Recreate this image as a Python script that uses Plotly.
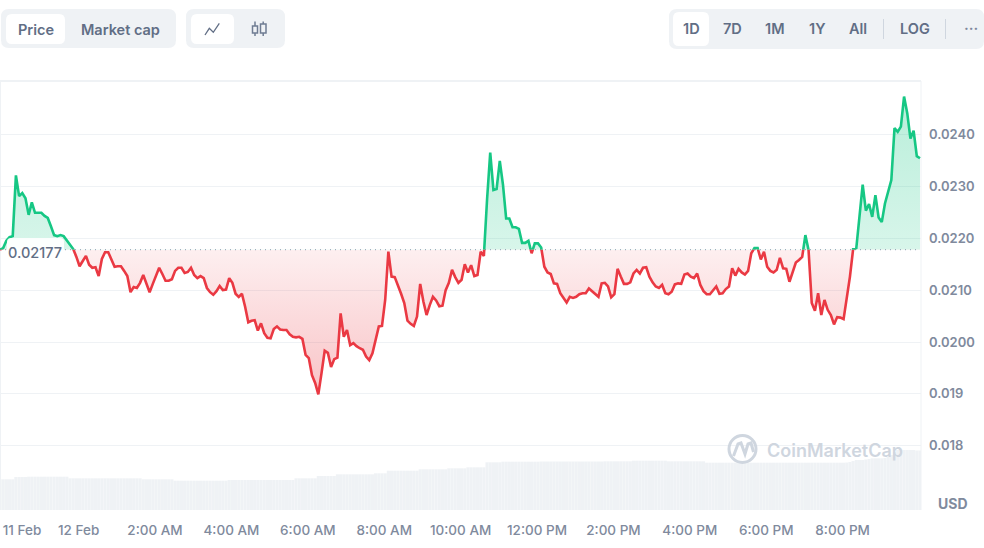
import pandas as pd
import plotly.graph_objects as go

# price every 5 minutes
price = [
    0.02178, 0.02181, 0.02195, 0.02202, 0.02204, 0.02321, 0.02281, 0.02287, 0.02277, 0.02245,
    0.02269, 0.02249, 0.02249, 0.02249, 0.02243, 0.02239, 0.02223, 0.02206, 0.02204, 0.02206,
    0.02204, 0.02195, 0.02187, 0.02179, 0.02164, 0.02146, 0.02156, 0.02166, 0.02149, 0.02143,
    0.02144, 0.02127, 0.02160, 0.02173, 0.02173, 0.02159, 0.02145, 0.02146, 0.02146, 0.02137,
    0.02127, 0.02096, 0.02106, 0.02104, 0.02114, 0.02129, 0.02112, 0.02096, 0.02112, 0.02127,
    0.02143, 0.02131, 0.02118, 0.02118, 0.02121, 0.02137, 0.02143, 0.02143, 0.02133, 0.02135,
    0.02143, 0.02129, 0.02123, 0.02127, 0.02123, 0.02104, 0.02096, 0.02091, 0.02098, 0.02108,
    0.02100, 0.02101, 0.02123, 0.02114, 0.02093, 0.02087, 0.02093, 0.02068, 0.02038, 0.02041,
    0.02042, 0.02022, 0.02036, 0.02017, 0.02008, 0.02007, 0.02025, 0.02030, 0.02024, 0.02023,
    0.02023, 0.02015, 0.02010, 0.02009, 0.02010, 0.02006, 0.01975, 0.01969, 0.01936, 0.01921,
    0.01899, 0.01940, 0.01983, 0.01979, 0.01952, 0.01967, 0.01970, 0.02055, 0.02010, 0.02023,
    0.01994, 0.01998, 0.01992, 0.01988, 0.01985, 0.01972, 0.01965, 0.01978, 0.02004, 0.02030,
    0.02031, 0.02081, 0.02174, 0.02126, 0.02125, 0.02110, 0.02093, 0.02075, 0.02041, 0.02035,
    0.02031, 0.02049, 0.02112, 0.02078, 0.02052, 0.02071, 0.02087, 0.02080, 0.02069, 0.02070,
    0.02100, 0.02114, 0.02139, 0.02125, 0.02114, 0.02120, 0.02150, 0.02134, 0.02148, 0.02127,
    0.02129, 0.02174, 0.02166, 0.02274, 0.02365, 0.02293, 0.02295, 0.02349, 0.02303, 0.02238,
    0.02238, 0.02221, 0.02221, 0.02218, 0.02191, 0.02191, 0.02195, 0.02171, 0.02190, 0.02190,
    0.02182, 0.02145, 0.02134, 0.02131, 0.02113, 0.02112, 0.02094, 0.02084, 0.02076, 0.02087,
    0.02085, 0.02087, 0.02092, 0.02094, 0.02094, 0.02103, 0.02097, 0.02092, 0.02087, 0.02113,
    0.02114, 0.02107, 0.02086, 0.02092, 0.02141, 0.02126, 0.02112, 0.02112, 0.02115, 0.02132,
    0.02139, 0.02132, 0.02143, 0.02144, 0.02126, 0.02115, 0.02107, 0.02104, 0.02110, 0.02094,
    0.02092, 0.02097, 0.02111, 0.02113, 0.02112, 0.02130, 0.02132, 0.02126, 0.02123, 0.02132,
    0.02110, 0.02098, 0.02092, 0.02092, 0.02100, 0.02107, 0.02093, 0.02094, 0.02102, 0.02107,
    0.02142, 0.02128, 0.02141, 0.02134, 0.02130, 0.02137, 0.02171, 0.02181, 0.02181, 0.02159,
    0.02174, 0.02145, 0.02137, 0.02134, 0.02139, 0.02162, 0.02142, 0.02141, 0.02116, 0.02135,
    0.02153, 0.02158, 0.02164, 0.02206, 0.02177, 0.02075, 0.02060, 0.02094, 0.02052, 0.02081,
    0.02062, 0.02052, 0.02034, 0.02048, 0.02047, 0.02044, 0.02083, 0.02126, 0.02179, 0.02181,
    0.02243, 0.02303, 0.02253, 0.02266, 0.02241, 0.02283, 0.02240, 0.02231, 0.02267, 0.02291,
    0.02312, 0.02412, 0.02405, 0.02415, 0.02473, 0.02441, 0.02392, 0.02407, 0.02358, 0.02354,
]

# volume bars, arbitrary units since the chart has no volume scale
volume = [
    30.7, 30.7, 30.7, 30.7, 30.7, 33, 33, 33, 33, 33.3,
    33.3, 33.3, 33.3, 33.3, 33.3, 33.3, 33.3, 33.3, 33.3, 33.3,
    33.3, 33.3, 31.7, 31.7, 31.7, 31.7, 31.7, 31.7, 31.7, 31.7,
    31.7, 31.7, 31.7, 31.7, 31.7, 31.7, 31.7, 31.7, 31.7, 31.7,
    31.7, 31.7, 31.7, 31.7, 31.7, 30.7, 30.7, 30.7, 30.7, 30.7,
    30.7, 30.7, 30.7, 30.7, 30.7, 29.3, 29.3, 29.3, 29.3, 29.3,
    29.3, 29.3, 29.3, 29.3, 29.3, 29.3, 29.3, 29.3, 29.3, 29.3,
    29.3, 29.3, 30, 30, 30, 30, 30, 30, 30, 30,
    30, 30, 30, 30, 30, 30, 30, 30, 30, 30,
    30, 30, 30, 31.7, 31.7, 31.7, 31.7, 31.7, 31.7, 31.7,
    34, 34, 34, 34, 34, 34, 35.7, 35.7, 35.7, 35.7,
    35.7, 35.7, 35.7, 35.7, 35.7, 35.7, 35.7, 35.7, 36.7, 36.7,
    36.7, 36.7, 39.3, 39.3, 39.3, 39.3, 39.3, 39.3, 39.3, 39.3,
    39.3, 39.3, 40.7, 40.7, 40.7, 40.7, 40.7, 40.7, 40.7, 40.7,
    40.7, 41.7, 41.7, 41.7, 41.7, 41.7, 41.7, 42.7, 42.7, 42.7,
    42.7, 42.7, 42.7, 47.7, 47.7, 47.7, 47.7, 47.7, 48.3, 48.3,
    48.3, 48.3, 48.3, 48.3, 48.3, 48.3, 48.3, 48.3, 48.3, 48.3,
    48.5, 48.5, 48.5, 48.5, 48.5, 48.5, 48.5, 48.5, 48.5, 48.5,
    48.5, 48.5, 48.5, 48.5, 48.5, 48.5, 48.5, 48.5, 48.5, 48.5,
    48.7, 48.7, 48.7, 48.7, 48.7, 48.7, 48.7, 48.7, 48.7, 49.3,
    49.3, 49.3, 49.3, 49.3, 49.3, 49.3, 49.3, 49.3, 49.3, 49.3,
    48.7, 48.7, 48.7, 48.7, 48.7, 48.7, 48.7, 48.7, 48.7, 48.7,
    48.7, 48.7, 47.3, 47.3, 47.3, 47.3, 47.3, 47.3, 47.3, 47.3,
    47.3, 47.3, 47.3, 47.3, 47.3, 47.3, 47.3, 47.3, 47.3, 47.3,
    47.3, 47.3, 47.3, 47.3, 47.3, 47.3, 47.3, 47.3, 47.3, 47.3,
    47.3, 47.3, 47.3, 47.3, 47.3, 47.3, 47.3, 47.3, 47.3, 47.3,
    47.3, 47.3, 47.3, 47.3, 47.3, 47.3, 47.5, 48, 49, 50,
    50, 50, 50.5, 51, 51.7, 51.7, 51.7, 51.7, 52, 53,
    55, 58, 60, 60, 60, 60, 60, 60, 59.5, 59.5,
]

baseline = 0.021778
price_ticks = [0.018, 0.019, 0.020, 0.021, 0.022, 0.023, 0.024]
price_labels = ['0.018', '0.019', '0.0200', '0.0210', '0.0220', '0.0230', '0.0240']
time_ticks = ['2024-02-11 22:31', '2024-02-12 00:00', '2024-02-12 02:00', '2024-02-12 04:00',
              '2024-02-12 06:00', '2024-02-12 08:00', '2024-02-12 10:00', '2024-02-12 12:00',
              '2024-02-12 14:00', '2024-02-12 16:00', '2024-02-12 18:00', '2024-02-12 20:00']
time_labels = ['11 Feb', '12 Feb', '2:00 AM', '4:00 AM', '6:00 AM', '8:00 AM', '10:00 AM',
               '12:00 PM', '2:00 PM', '4:00 PM', '6:00 PM', '8:00 PM']

times = pd.date_range('2024-02-11 21:56:30', periods=len(price), freq='5min')
flat = [baseline] * len(price)
y_min, y_max = 0.016763, 0.025029

W, H = 984, 548
TEXT = '#616e85'
AXIS = '#808a9d'
PILL = '#eff2f5'
GREEN = '#16c784'
RED = '#ea3943'
MARK = '#cfd6df'
FONT = 'Inter'

plot_left, plot_right = 0, 921 / W
plot_bottom, plot_top = (H - 510) / H, (H - 81) / H
split = plot_bottom + (plot_top - plot_bottom) * (baseline - y_min) / (y_max - y_min)


def px(x):
    return x / W


def py(y):
    return 1 - y / H


def rounded(x0, y0, x1, y1, r, color, opacity=1):
    path = (f'M {px(x0 + r)} {py(y0)} L {px(x1 - r)} {py(y0)} '
            f'Q {px(x1)} {py(y0)} {px(x1)} {py(y0 + r)} L {px(x1)} {py(y1 - r)} '
            f'Q {px(x1)} {py(y1)} {px(x1 - r)} {py(y1)} L {px(x0 + r)} {py(y1)} '
            f'Q {px(x0)} {py(y1)} {px(x0)} {py(y1 - r)} L {px(x0)} {py(y0 + r)} '
            f'Q {px(x0)} {py(y0)} {px(x0 + r)} {py(y0)} Z')
    return dict(type='path', xref='paper', yref='paper', path=path, fillcolor=color,
                line_width=0, layer='above', opacity=opacity)


def stroke(points, color, width=1.5):
    path = 'M ' + ' L '.join(f'{px(x)} {py(y)}' for x, y in points)
    return dict(type='path', xref='paper', yref='paper', path=path,
                line=dict(color=color, width=width), layer='above')


def box(x0, y0, x1, y1, color, width=1.5):
    return dict(type='rect', xref='paper', yref='paper', x0=px(x0), x1=px(x1), y0=py(y0), y1=py(y1),
                line=dict(color=color, width=width), layer='above')


def label(text, x, y, size=14.5, color=TEXT, weight=600):
    return dict(text=text, xref='paper', yref='paper', x=px(x), y=py(y), showarrow=False,
                xanchor='center', yanchor='middle',
                font=dict(family=FONT, size=size, color=color, weight=weight))


fig = go.Figure()

# dotted opening price line, on the main axis with the grid
fig.add_trace(go.Scatter(x=times, y=flat, mode='lines', yaxis='y',
                         line=dict(color='#a6b0c3', width=1.2, dash='1px,4px')))

# volume
fig.add_trace(go.Bar(x=times, y=volume, yaxis='y4', marker_color=PILL, marker_line_width=0, width=296000))

# the part above the opening price lives on y2, the part below on y3, each axis clips the other part
fig.add_trace(go.Scatter(x=times, y=flat, mode='lines', yaxis='y2', line_width=0))
fig.add_trace(go.Scatter(x=times, y=price, mode='lines', yaxis='y2', fill='tonexty',
                         line=dict(color=GREEN, width=2.6),
                         fillgradient=dict(type='vertical', start=baseline, stop=0.0247,
                                           colorscale=[[0, 'rgba(22,199,132,0.17)'],
                                                       [1, 'rgba(22,199,132,0.3)']])))
fig.add_trace(go.Scatter(x=times, y=flat, mode='lines', yaxis='y3', line_width=0))
fig.add_trace(go.Scatter(x=times, y=price, mode='lines', yaxis='y3', fill='tonexty',
                         line=dict(color=RED, width=2.6),
                         fillgradient=dict(type='vertical', start=0.0190, stop=baseline,
                                           colorscale=[[0, 'rgba(234,57,67,0.3)'],
                                                       [1, 'rgba(234,57,67,0.08)']])))

shapes = [
    # chart frame
    dict(type='line', xref='paper', yref='paper', x0=0, x1=px(921), y0=py(81), y1=py(81),
         line=dict(color='#eff2f5', width=2), layer='below'),
    dict(type='line', xref='paper', yref='paper', x0=px(0.5), x1=px(0.5), y0=py(81), y1=py(510),
         line=dict(color='#eff2f5', width=1), layer='below'),
    dict(type='line', xref='paper', yref='paper', x0=px(921), x1=px(921), y0=py(81), y1=py(510),
         line=dict(color='#eff2f5', width=1), layer='below'),
    # label behind the opening price
    rounded(7, 238, 64, 263, 4, 'white', 0.93),
    # top left buttons
    rounded(1, 9, 176, 48, 8, PILL),
    rounded(6, 14, 65, 44, 6, 'white'),
    rounded(186, 9, 285, 48, 8, PILL),
    rounded(191, 14, 234, 44, 6, 'white'),
    stroke([(205, 35), (209.3, 28.3), (213.3, 32.3), (219.3, 23.3)], TEXT, 1.3),
    # candle icon
    box(252.5, 26, 257.5, 33, '#6f7c92'),
    box(260.5, 24, 266, 33, '#6f7c92'),
    stroke([(255, 21.5), (255, 26)], '#6f7c92'),
    stroke([(255, 33), (255, 36)], '#6f7c92'),
    stroke([(263.2, 21.5), (263.2, 24)], '#6f7c92'),
    stroke([(263.2, 33), (263.2, 36)], '#6f7c92'),
    # range buttons
    rounded(669, 9, 984, 49, 8, PILL),
    rounded(673, 12, 709, 46, 6, 'white'),
    stroke([(883.5, 19), (883.5, 39)], '#cfd6df', 1),
    stroke([(945.5, 19), (945.5, 39)], '#cfd6df', 1),
    # watermark logo
    dict(type='circle', xref='paper', yref='paper', x0=px(729), x1=px(756), y0=py(435.5), y1=py(462.5),
         line=dict(color=MARK, width=3), layer='above'),
    stroke([(733.5, 456), (738, 444), (741, 443), (745, 454), (748, 444), (751, 443), (753.5, 452)], MARK, 3),
]

annotations = [
    label('Price', 35.5, 29),
    label('Market cap', 120, 29),
    label('1D', 691, 28.5),
    label('7D', 732.5, 28.5),
    label('1M', 775, 28.5),
    label('1Y', 817, 28.5),
    label('All', 858, 28.5),
    label('LOG', 915, 28.5),
    label('···', 971, 28, 15, '#7d879c'),
    label('0.02177', 35, 252, 14.5, TEXT, 500),
    label('USD', 952.5, 503.5, 14, AXIS, 700),
    label('CoinMarketCap', 834.5, 450.5, 18, MARK, 600),
]

fig.update_layout(
    width=W, height=H,
    margin=dict(l=0, r=0, t=0, b=0),
    paper_bgcolor='white', plot_bgcolor='rgba(0,0,0,0)',
    showlegend=False,
    hovermode=False,
    shapes=shapes,
    annotations=annotations,
    font=dict(family=FONT, color=AXIS),
    xaxis=dict(domain=[plot_left, plot_right], anchor='y', type='date', range=[times[0], '2024-02-12 22:03:06'],
               tickvals=time_ticks, ticktext=time_labels, showgrid=False, ticks='', zeroline=False,
               showline=False, ticklabelstandoff=10, tickangle=0,
               tickfont=dict(family=FONT, size=13.5, color=AXIS, weight=500)),
    yaxis=dict(domain=[plot_bottom, plot_top], anchor='x', side='right', range=[y_min, y_max],
               tickvals=price_ticks, ticktext=price_labels, gridcolor='#eff2f5', gridwidth=1,
               zeroline=False, showline=False, ticks='', ticklabelstandoff=7,
               tickfont=dict(family=FONT, size=13, color=AXIS, weight=600)),
    yaxis2=dict(domain=[split, plot_top], anchor='x', range=[baseline, y_max], visible=False),
    yaxis3=dict(domain=[plot_bottom, split], anchor='x', range=[y_min, baseline], visible=False),
    yaxis4=dict(domain=[plot_bottom, plot_top], anchor='x', range=[0, 429], visible=False),
)

fig.write_html('out.html', config={'displayModeBar': False},
               post_script="document.body.style.margin='0';document.body.style.overflow='hidden';")
